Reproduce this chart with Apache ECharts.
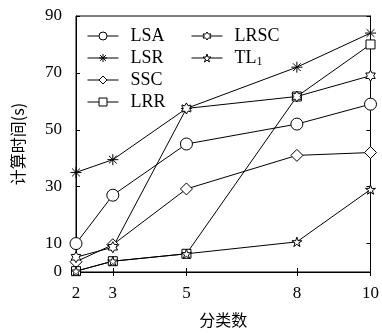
<!DOCTYPE html>
<html><head><meta charset="utf-8">
<script src="https://cdn.jsdelivr.net/npm/echarts@6/dist/echarts.min.js"></script>
<style>html,body{margin:0;padding:0;background:#fff}#c{width:382px;height:333px}</style>
</head><body><div id="c"></div>
<script>
var xs = [2, 3, 5, 8, 10];
var yTicks = [0, 10, 30, 50, 70, 90];
var names = ['LSA', 'LSR', 'SSC', 'LRR', 'LRSC', 'TL1'];
var LSA  = [10, 27, 45, 52, 59];
var LSR  = [35, 39.5, 57.5, 72, 84];
var SSC  = [3.6, 9.6, 29.2, 41, 42];
var LRR  = [0.3, 3.8, 6.4, 61.7, 80];
var LRSC = [5.2, 8.7, 57.5, 61.7, 69];
var TL1  = [0.3, 3.8, 6.4, 10.6, 29];

function starPath(n, rIn) {
  var pts = [];
  for (var i = 0; i < 2 * n; i++) {
    var r = i % 2 === 0 ? 1 : rIn;
    var a = -Math.PI / 2 + i * Math.PI / n;
    pts.push((10 + 10 * r * Math.cos(a)).toFixed(3) + ',' + (10 + 10 * r * Math.sin(a)).toFixed(3));
  }
  return 'path://M' + pts.join('L') + 'Z';
}
var asterisk = 'path://M0,5L10,5M5,0L5,10M1.46,1.46L8.54,8.54M8.54,1.46L1.46,8.54';
var hexagram = starPath(6, 0.577);
var pentagram = starPath(5, 0.382);

var symbols = ['circle', asterisk, 'diamond', 'rect', hexagram, pentagram];
var sizes = [12, 11, 12, 9, 11, 10];
var values = [LSA, LSR, SSC, LRR, LRSC, TL1];

var serif = 'Liberation Serif';
var series = names.map(function (n, k) {
  return {
    name: n, type: 'line',
    data: xs.map(function (x, i) { return [x, values[k][i]]; }),
    symbol: symbols[k], symbolSize: sizes[k], symbolKeepAspect: true,
    showAllSymbol: true,
    lineStyle: { color: '#000', width: 1 },
    itemStyle: { color: k === 1 ? 'none' : '#fff', borderColor: '#000', borderWidth: 1 },
    emphasis: { disabled: true },
    animation: false, z: 3
  };
});

var chart = echarts.init(document.getElementById('c'), null, { renderer: 'canvas' });
var legendBase = {
  orient: 'vertical', itemWidth: 31, itemHeight: 10, itemGap: 4,
  lineStyle: { width: 1, color: '#000' },
  itemStyle: { borderWidth: 1, borderColor: '#000' },
  textStyle: { fontFamily: serif, fontSize: 18, color: '#000', padding: [0, 0, 0, 7],
    rich: { n: { fontFamily: serif, fontSize: 18, color: '#000' },
            s: { fontFamily: serif, fontSize: 12, color: '#000', padding: [7, 0, 0, 0] } } },
  formatter: function (name) { return name === 'TL1' ? '{n|TL}{s|1}' : name; },
  selectedMode: false, padding: 0
};
chart.setOption({
  animation: false,
  grid: { left: 76, right: 7, top: 16, bottom: 60.5, show: true, borderColor: '#000', borderWidth: 1 },
  legend: [
    Object.assign({}, legendBase, { left: 87, top: 27, data: ['LSA', 'LSR', 'SSC', 'LRR'] }),
    Object.assign({}, legendBase, { left: 191, top: 27, data: ['LRSC', 'TL1'] })
  ],
  xAxis: [{
    type: 'value', min: 2, max: 10, position: 'bottom',
    name: '分类数', nameLocation: 'middle', nameGap: 40,
    nameTextStyle: { fontFamily: 'Noto Sans CJK SC', fontSize: 16, color: '#000' },
    axisLine: { lineStyle: { color: '#000' } },
    axisTick: { inside: true, length: 4, customValues: xs, lineStyle: { color: '#000' } },
    axisLabel: { customValues: xs, margin: 13, fontFamily: serif, fontSize: 17, color: '#000' },
    splitLine: { show: false }
  }, {
    type: 'value', min: 2, max: 10, position: 'top',
    axisLine: { lineStyle: { color: '#000' } },
    axisTick: { inside: true, length: 4, customValues: xs, lineStyle: { color: '#000' } },
    axisLabel: { show: false }, splitLine: { show: false }
  }],
  yAxis: [{
    type: 'value', min: 0, max: 90, position: 'left',
    name: '计算时间(s)', nameLocation: 'middle', nameGap: 50,
    nameTextStyle: { fontFamily: 'Noto Sans CJK SC', fontSize: 16, color: '#000' },
    axisLine: { show: true, lineStyle: { color: '#000' } },
    axisTick: { show: true, inside: true, length: 4, customValues: yTicks, lineStyle: { color: '#000' } },
    axisLabel: { customValues: yTicks, margin: 14, fontFamily: serif, fontSize: 17, color: '#000' },
    splitLine: { show: false }
  }, {
    type: 'value', min: 0, max: 90, position: 'right',
    axisLine: { show: true, lineStyle: { color: '#000' } },
    axisTick: { show: true, inside: true, length: 4, customValues: yTicks, lineStyle: { color: '#000' } },
    axisLabel: { show: false }, splitLine: { show: false }
  }],
  series: series
});
</script></body></html>
